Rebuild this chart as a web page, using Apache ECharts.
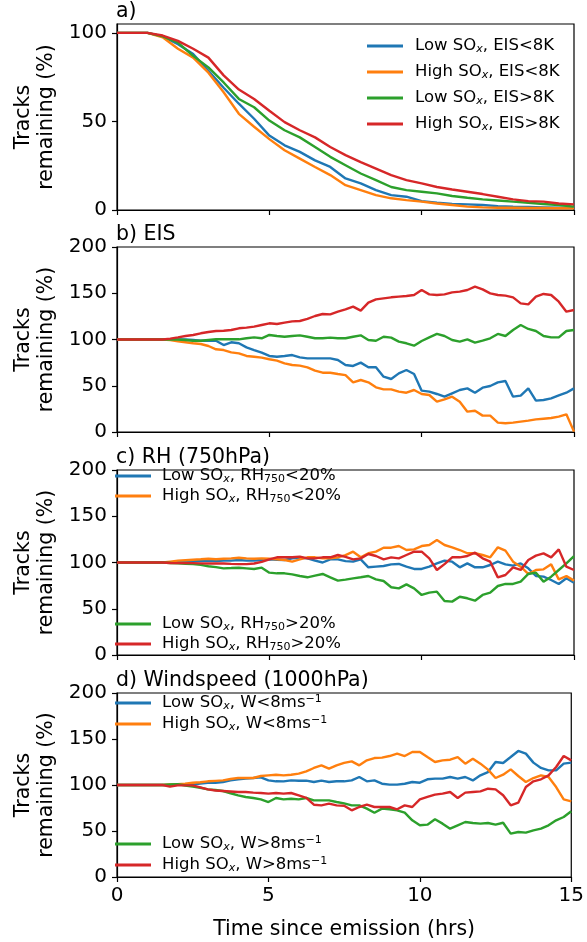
<!DOCTYPE html>
<html>
<head>
<meta charset="utf-8">
<script src="https://cdn.jsdelivr.net/npm/echarts@6/dist/echarts.min.js"></script>
<style>
  html, body { margin: 0; padding: 0; background: #fff; }
  #chart { width: 587px; height: 942px; }
</style>
</head>
<body>
<div id="chart"></div>
<script>
// time since emission (hrs)
const hoursA = [0, 0.5, 1, 1.5, 2, 2.5, 3, 3.5, 4, 4.5, 5, 5.5, 6, 6.5, 7, 7.5, 8, 8.5, 9, 9.5, 10,
  10.5, 11, 11.5, 12, 12.5, 13, 13.5, 14, 14.5, 15];
const hours = [0, 0.25, 0.5, 0.75, 1, 1.25, 1.5, 1.75, 2, 2.25, 2.5, 2.75, 3, 3.25, 3.5, 3.75, 4, 4.25,
  4.5, 4.75, 5, 5.25, 5.5, 5.75, 6, 6.25, 6.5, 6.75, 7, 7.25, 7.5, 7.75, 8, 8.25, 8.5, 8.75, 9, 9.25,
  9.5, 9.75, 10, 10.25, 10.5, 10.75, 11, 11.25, 11.5, 11.75, 12, 12.25, 12.5, 12.75, 13, 13.25, 13.5,
  13.75, 14, 14.25, 14.5, 14.75, 15];

// a) tracks remaining
const aLowLt = [100, 100, 100, 98, 93.6, 88, 78.6, 69, 60, 51.5, 42, 36.5, 32.8, 28, 24.3, 17.8, 15, 11.2,
  8.4, 7.5, 5, 4.1, 3.4, 3.2, 2.8, 2.2, 1.9, 1.7, 1.5, 1.3, 1.3];
const aHighLt = [100, 100, 100, 97.5, 91, 86, 77.5, 66.5, 54.3, 47, 40, 33.7, 29, 24.3, 19.7, 14, 11.2, 8.4,
  6.6, 5.6, 4.7, 3.7, 2.8, 1.9, 1.5, 1.3, 1.3, 1.1, 1.1, 1, 0.9];
const aLowGt = [100, 100, 100, 98, 94.5, 87, 80.5, 72, 62.7, 58, 50.5, 45, 41, 35.6, 30, 25.3, 20.6, 16.9,
  13, 11.2, 10.3, 9.4, 7.9, 6.9, 6, 5.4, 4.7, 4.1, 3.4, 2.8, 1.9];
const aHighGt = [100, 100, 100, 98.5, 95.5, 91, 86, 76, 68, 62.7, 56, 49.6, 45, 41, 35.6, 31, 27, 23.4,
  19.7, 16.9, 15, 13, 11.6, 10.3, 9, 7.5, 6, 5, 4.7, 3.7, 3.2];

// b) EIS
const bLowLt = [100, 100, 100, 100, 100, 100, 100, 100, 100, 100, 99.5, 98.7, 98.7, 98.7, 94, 97, 95.9,
  91.5, 88.6, 85.8, 82.2, 81.4, 82.2, 83.2, 80.7, 79.6, 79.6, 79.6, 79.6, 77.8, 72.5, 71.4, 75, 70, 70,
  59.8, 57.3, 63.4, 67, 62.7, 44.7, 43.6, 41.1, 38.2, 41.8, 45.4, 47.2, 42.5, 47.9, 49.7, 53.7, 55.1,
  38.2, 39.3, 47.2, 33.9, 34.6, 36.4, 39.6, 42.5, 47.2];
const bHighLt = [100, 100, 100, 100, 100, 100, 100, 99.5, 98, 97, 95.9, 95.1, 93, 89.4, 88.6, 86.1, 85,
  82.2, 81.4, 80.4, 78.6, 77.1, 74.2, 72.4, 71.7, 69.9, 66.3, 64.1, 64.1, 62.7, 61.5, 53.7, 56.2, 53.7,
  48.3, 46.1, 46.1, 43.6, 42.5, 45.4, 41.1, 40, 32.8, 35.3, 38.2, 32.8, 22, 23, 17.7, 17.7, 10.1, 9.4,
  10.1, 11.2, 12.3, 13.7, 14.4, 15.1, 16.6, 19.1, 0.4];
const bLowGt = [100, 100, 100, 100, 100, 100, 100, 100, 100, 99.5, 98.7, 98.7, 99.5, 100.2, 100.2, 100.2,
  100.2, 101.3, 102.3, 101.3, 104.9, 103.8, 103, 103.8, 104.5, 103, 101.3, 101.3, 102, 101.3, 101.3, 103,
  104.5, 99.5, 98.7, 103, 102, 97.7, 95.9, 93.3, 98.4, 102.3, 106, 103.8, 99.5, 97.7, 100.2, 96.6, 98.7,
  101.3, 106, 103.8, 110.3, 115.7, 111.4, 109.2, 103.8, 102.3, 102.3, 109.2, 110.3];
const bHighGt = [100, 100, 100, 100, 100, 100, 100, 100.9, 102.3, 103.8, 104.9, 106.7, 108.1, 109.2, 109.5,
  110.3, 112.1, 112.8, 113.9, 115.7, 117.5, 116.8, 118.2, 119.6, 120, 122.2, 125.4, 127.6, 127.2, 130.1,
  132.5, 135.5, 131.2, 139.8, 143.4, 144.5, 145.6, 146.3, 147, 148.1, 153.5, 148.8, 148.1, 148.8, 151,
  151.7, 153.5, 157.1, 154.2, 149.9, 148.1, 147.4, 145.6, 139.1, 138, 146.3, 149.2, 148.1, 140.9, 130.1,
  131.9];

// c) RH (750hPa)
const cLowLt = [100, 100, 100, 100, 100, 100, 100, 100, 101, 101, 101.6, 101.6, 102, 101.6, 102, 102, 102.7,
  102, 102, 102.7, 103.4, 103, 102.7, 104.5, 105.2, 104.5, 102, 100, 103.4, 103.4, 101.5, 100.9, 103.4,
  94.8, 95.5, 96.2, 98, 98.4, 95.5, 93, 93, 95.5, 99, 102, 100.9, 94.8, 99, 94.8, 94.8, 97.3, 100.9, 98,
  96.6, 99, 93.7, 85.4, 84.7, 81.1, 76.8, 82.9, 78.2];
const cHighLt = [100, 100, 100, 100, 100, 100, 100, 101, 102, 102.5, 103, 103.5, 104.1, 103.5, 104.1, 104.5,
  105.2, 104.5, 104.1, 104.5, 104.1, 103.5, 102.7, 100.9, 103.4, 105.6, 105.6, 104.5, 104.5, 105.6, 108,
  111.7, 105.6, 110, 111.7, 116, 116, 117.8, 113.5, 114.2, 117.8, 118.9, 124.3, 118.9, 116.4, 113.5, 110,
  110, 108.1, 105.6, 116.4, 112.8, 100.9, 95.5, 87.6, 91.9, 92.6, 98, 81.8, 85.4, 80.4];
const cLowGt = [100, 100, 100, 100, 100, 100, 100, 99.5, 99, 98.5, 98.2, 97.5, 96, 95, 93.7, 94, 94.4, 93.7,
  93, 94.4, 89, 88.3, 88.3, 87.2, 85.4, 84, 85.8, 87.6, 84, 80.4, 81.5, 82.9, 84, 85.4, 81.8, 80, 73.2, 72,
  76.4, 72, 64.9, 67.4, 68.5, 58.4, 57.7, 63, 61.3, 58.7, 64.9, 67.4, 74.6, 76.8, 76.8, 79.3, 87.6, 89,
  79.3, 84.7, 91.9, 99, 107];
const cHighGt = [100, 100, 100, 100, 100, 100, 100, 99.5, 99.3, 99.3, 99.3, 99, 98.9, 98.9, 98.9, 98.5, 98.2,
  98.2, 98.9, 100.7, 103.4, 105.6, 105.6, 105.6, 106.3, 104.5, 104.5, 105.6, 105.6, 108.1, 106, 103.4,
  104.5, 109.2, 107, 103.4, 105.6, 104.5, 108.1, 111.7, 111.7, 104.5, 91.9, 98.2, 105.6, 105.6, 107, 110.6,
  104.5, 100.9, 83.9, 86.5, 94.8, 91.9, 102.7, 107.4, 109.9, 105.6, 114.2, 95.5, 91.9];

// d) Windspeed (1000hPa)
const dLowLt = [100, 100, 100, 100, 100, 100, 100, 100, 100.4, 100.4, 100.4, 101.5, 102.5, 102.5, 103.3, 105,
  106.2, 107, 107.6, 108.3, 105, 104, 103.9, 105, 104.7, 104.7, 103.3, 104.7, 103.3, 104, 104, 105, 108.7,
  104, 105, 101.4, 100.4, 100.4, 101.4, 103.3, 102.5, 106.2, 106.9, 106.9, 108.7, 106.9, 108.7, 105, 110.5,
  114.1, 125, 123.9, 130.4, 137, 134.1, 124.3, 118.5, 115.9, 115.9, 123.2, 124.3];
const dHighLt = [100, 100, 100, 100, 100, 100, 100, 100.5, 101, 101.5, 102.5, 103, 104, 104.5, 105, 106.5,
  107.6, 107.6, 107.6, 109.8, 110.5, 111.2, 110.5, 111.2, 112.3, 114.9, 118.5, 121.4, 117.8, 121.4, 124,
  125.7, 121.4, 126.8, 129.3, 129.7, 131.5, 134.1, 131.5, 135.9, 135.9, 130.4, 125, 126.8, 127.5, 130.4,
  123.2, 128.6, 123.2, 116.7, 107.6, 111.2, 117, 109.8, 103.3, 107.6, 110.5, 108.7, 97.8, 84.4, 82.2];
const dLowGt = [100, 100, 100, 100, 100, 100, 100, 100.5, 101, 99.5, 98.2, 97, 95.3, 94.5, 93.5, 91, 88.8, 87,
  85.9, 84.4, 81.5, 85.9, 84.4, 85.1, 84.4, 85.9, 83.3, 83.3, 83.3, 81.5, 80, 77.9, 77.9, 74.3, 69.9, 74.3,
  73.6, 72.5, 69.9, 61.6, 56.2, 56.9, 62.7, 58, 52.5, 56.2, 59.8, 58.7, 58, 58.7, 56.9, 59, 47.1, 48.9,
  48.2, 50.7, 52.5, 56.2, 61.6, 65.2, 71.4];
const dHighGt = [100, 100, 100, 100, 100, 100, 100, 98.2, 99.6, 99.6, 99.6, 97.5, 95.3, 94, 93.5, 93, 92.4,
  92.4, 91.7, 91.3, 90.6, 91.3, 90.6, 91.3, 88.8, 85.9, 78.6, 77.9, 79.7, 77.9, 77.5, 72.5, 76.1, 78.6,
  76.1, 76.1, 76.1, 73.6, 77.9, 76.1, 84.4, 87, 89.5, 90.6, 92.4, 85.9, 91.7, 92.4, 93.1, 96, 95.3, 88.8,
  77.9, 80.8, 97.8, 104, 106.2, 110.5, 119.6, 131.5, 126.8];

const namesEIS = ['Low SOx, EIS<8K', 'High SOx, EIS<8K', 'Low SOx, EIS>8K', 'High SOx, EIS>8K'];
const namesRH = ['Low SOx, RH750<20%', 'High SOx, RH750<20%', 'Low SOx, RH750>20%', 'High SOx, RH750>20%'];
const namesW = ['Low SOx, W<8ms-1', 'High SOx, W<8ms-1', 'Low SOx, W>8ms-1', 'High SOx, W>8ms-1'];
const titles = ['a)', 'b) EIS', 'c) RH (750hPa)', 'd) Windspeed (1000hPa)'];
const yMax = [105, 200, 200, 200];
const yTicks = [[0, 50, 100], [0, 50, 100, 150, 200], [0, 50, 100, 150, 200], [0, 50, 100, 150, 200]];
const xTicks = [0, 5, 10, 15];

const colors = ['#1f77b4', '#ff7f0e', '#2ca02c', '#d62728'];
const font = 'DejaVu Sans';
const gridTop = [24, 247, 470, 693];
const gridHeight = [186, 185, 185, 184];

const panels = [
  { x: hoursA, names: namesEIS, data: [aLowLt, aHighLt, aLowGt, aHighGt] },
  { x: hours, names: namesEIS, data: [bLowLt, bHighLt, bLowGt, bHighGt] },
  { x: hours, names: namesRH, data: [cLowLt, cHighLt, cLowGt, cHighGt] },
  { x: hours, names: namesW, data: [dLowLt, dHighLt, dLowGt, dHighGt] },
];

const chart = echarts.init(document.getElementById('chart'));

const grid = [], xAxis = [], yAxis = [], series = [], title = [];
panels.forEach((p, k) => {
  grid.push({
    left: 117, right: 13, top: gridTop[k], height: gridHeight[k],
    show: true, borderColor: '#000', borderWidth: 1.2, backgroundColor: 'transparent',
  });
  title.push({
    text: titles[k], left: 116, top: gridTop[k] - 23, padding: 0,
    textStyle: { fontFamily: font, fontSize: 20.5, fontWeight: 'normal', color: '#000' },
  });
  const last = k === panels.length - 1;
  xAxis.push({
    type: 'value', gridIndex: k, min: 0, max: 15,
    axisLine: { show: true, lineStyle: { color: '#000', width: 1.2 } },
    axisTick: { show: true, length: 5, customValues: xTicks, lineStyle: { color: '#000', width: 1.2 } },
    axisLabel: { show: last, customValues: xTicks, fontFamily: font, fontSize: 20, color: '#000', margin: 9 },
    splitLine: { show: false },
    name: last ? 'Time since emission (hrs)' : '',
    nameLocation: 'middle', nameGap: 42,
    nameTextStyle: { fontFamily: font, fontSize: 20.5, color: '#000' },
  });
  yAxis.push({
    type: 'value', gridIndex: k, min: 0, max: yMax[k],
    axisLine: { show: true, lineStyle: { color: '#000', width: 1.2 } },
    axisTick: { show: true, length: 5, customValues: yTicks[k], lineStyle: { color: '#000', width: 1.2 } },
    axisLabel: { customValues: yTicks[k], fontFamily: font, fontSize: 20, color: '#000', margin: 10 },
    splitLine: { show: false },
    name: 'Tracks\nremaining (%)',
    nameLocation: 'middle', nameGap: 55, nameRotate: 90,
    nameTextStyle: { fontFamily: font, fontSize: 20.5, lineHeight: 23, color: '#000', align: 'center' },
  });
  p.data.forEach((vals, i) => {
    series.push({
      name: p.names[i], type: 'line', xAxisIndex: k, yAxisIndex: k,
      data: p.x.map((t, j) => [t, vals[j]]),
      showSymbol: false, symbol: 'none', smooth: false,
      lineStyle: { color: colors[i], width: 2.4 },
      itemStyle: { color: colors[i] },
      animation: false,
    });
  });
});

const legendText = {
  fontFamily: font, fontSize: 16.5, color: '#000', lineHeight: 18,
  rich: {
    subi: { fontFamily: font, fontSize: 11, fontStyle: 'italic', lineHeight: 10, verticalAlign: 'bottom', color: '#000' },
    sub: { fontFamily: font, fontSize: 11, lineHeight: 10, verticalAlign: 'bottom', color: '#000' },
    sup: { fontFamily: font, fontSize: 11, lineHeight: 10, verticalAlign: 'top', color: '#000' },
  },
};
const fmt = (name) => name.replace('SOx', 'SO{subi|x}').replace('RH750', 'RH{sub|750}').replace('ms-1', 'ms{sup|−1}');
const legendBase = {
  orient: 'vertical', padding: 0, icon: 'rect', itemWidth: 36, itemHeight: 3,
  formatter: fmt, selectedMode: false,
};

chart.setOption({
  animation: false,
  backgroundColor: '#fff',
  title: title,
  grid: grid,
  xAxis: xAxis,
  yAxis: yAxis,
  legend: [
    Object.assign({}, legendBase, { data: namesEIS, left: 367, top: 37, itemGap: 8,
      textStyle: Object.assign({}, legendText, { padding: [0, 0, 0, 7] }) }),
    Object.assign({}, legendBase, { data: namesRH.slice(0, 2), left: 115, top: 467, itemGap: 2,
      textStyle: Object.assign({}, legendText, { padding: [0, 0, 0, 6] }) }),
    Object.assign({}, legendBase, { data: namesRH.slice(2), left: 115, top: 615, itemGap: 2,
      textStyle: Object.assign({}, legendText, { padding: [0, 0, 0, 6] }) }),
    Object.assign({}, legendBase, { data: namesW.slice(0, 2), left: 115, top: 694, itemGap: 3,
      textStyle: Object.assign({}, legendText, { padding: [0, 0, 0, 6] }) }),
    Object.assign({}, legendBase, { data: namesW.slice(2), left: 115, top: 835, itemGap: 3,
      textStyle: Object.assign({}, legendText, { padding: [0, 0, 0, 6] }) }),
  ],
  series: series,
});
</script>
</body>
</html>
